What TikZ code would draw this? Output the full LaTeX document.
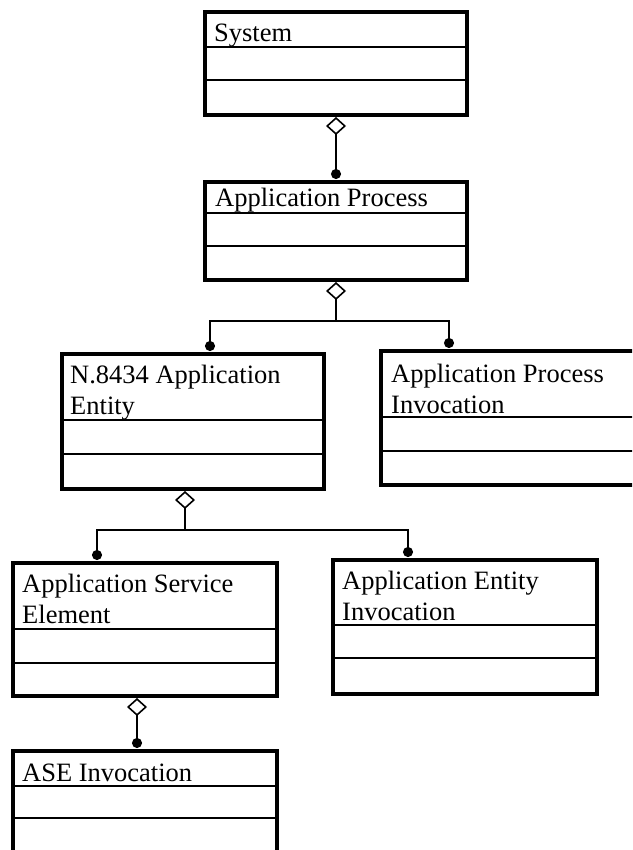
\documentclass[tikz,border=0pt]{standalone}
\usepackage{fontspec}
\setmainfont{Liberation Serif}
\usetikzlibrary{arrows.meta, positioning, calc}

\tikzset{
  classbox/.style={draw, line width=4.5pt, inner sep=0pt, outer sep=0pt, anchor=north west},
  divider/.style={line width=2.2pt},
  classname/.style={inner sep=0pt, anchor=base west, align=left, font=\fontsize{26.5}{31}\selectfont},
  link/.style={line width=1.6pt},
  agg/.style={link, {Diamond[open,length=18pt,width=20pt]}-{Circle[length=10pt]}},
  branch/.style={link, -{Circle[length=10pt]}},
}

% class box: name, top left corner, width, heights of the three compartments
\newcommand{\umlclass}[6]{%
  \node[classbox, minimum width=#3, minimum height=#4+#5+#6] (#1) at #2 {};
  \draw[divider] ([yshift=-#4]#1.north west) -- ([yshift=-#4]#1.north east);
  \draw[divider] ([yshift=-#4-#5]#1.north west) -- ([yshift=-#4-#5]#1.north east);
}

\begin{document}
\begin{tikzpicture}[x=1pt, y=-1pt]
  \useasboundingbox (0,0) rectangle (632,850);
  \clip (0,0) rectangle (632,850);

  % Classes
  \umlclass{sys}{(205,12)}{262}{35}{33}{35}
  \umlclass{ap}{(205,182)}{262}{31}{33}{34}
  \umlclass{nae}{(62,354)}{262}{66}{34}{35}
  \umlclass{apinv}{(381,351)}{256}{66}{34}{34}
  \umlclass{ase}{(13,563)}{264}{66}{34}{33}
  \umlclass{aeinv}{(333,560)}{264}{65}{33}{36}
  \umlclass{aseinv}{(13,751)}{264}{35}{32}{80}

  % Class names (anchored on the last line)
  \node[classname] (sys-name) at (214,42) {System};
  \node[classname] (ap-name) at (215,207) {Application Process};
  \node[classname] (nae-name) at (70,414) {N.8434 Application\\Entity};
  \node[classname] (apinv-name) at (391,413) {Application Process\\Invocation};
  \node[classname] (ase-name) at (22,623) {Application Service\\Element};
  \node[classname] (aeinv-name) at (342,620) {Application Entity\\Invocation};
  \node[classname] (aseinv-name) at (22,781) {ASE Invocation};

  % Aggregations
  \draw[agg] ([yshift=-2pt]sys.south) -- ([yshift=3pt]ap.north);

  \coordinate (apfork) at (336,321);
  \draw[agg] ([yshift=-2pt]ap.south) -- (apfork) -| ([xshift=148pt,yshift=3pt]nae.north west);
  \draw[branch] (apfork) -| ([xshift=68pt,yshift=3pt]apinv.north west);

  \coordinate (naefork) at (185,530);
  \draw[agg] ([xshift=123pt,yshift=-2pt]nae.south west) -- (naefork) -| ([xshift=84pt,yshift=3pt]ase.north west);
  \draw[branch] (naefork) -| ([xshift=75pt,yshift=3pt]aeinv.north west);

  \draw[agg] ([xshift=124pt,yshift=-2pt]ase.south west) -- ([xshift=124pt,yshift=3pt]aseinv.north west);
\end{tikzpicture}
\end{document}
